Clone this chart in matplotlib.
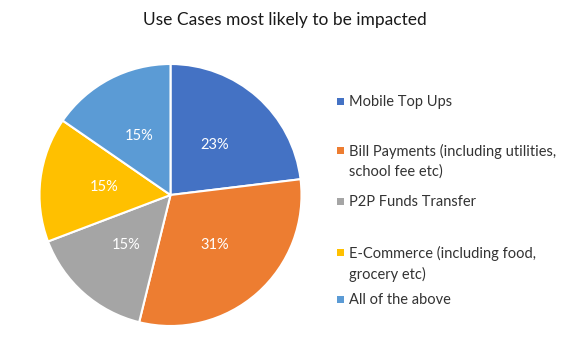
import matplotlib
matplotlib.use("Agg")
import matplotlib.pyplot as plt
from matplotlib.patches import Rectangle

plt.rcParams['font.family'] = ['Lato', 'DejaVu Sans']

title = "Use Cases most likely to be impacted"
categories = [
    "Mobile Top Ups",
    "Bill Payments (including utilities,\nschool fee etc)",
    "P2P Funds Transfer",
    "E-Commerce (including food,\ngrocery etc)",
    "All of the above",
]
responses = [3, 4, 2, 2, 2]
colors = ["#4472C4", "#ED7D31", "#A5A5A5", "#FFC000", "#5B9BD5"]

W, H = 569, 347
fig = plt.figure(figsize=(W / 100, H / 100), dpi=100)

# pie centred at (170.5, 195) px with radius ~130 px
cx, cy, r = 170.5, 195, 131
ax = fig.add_axes([(cx - r) / W, 1 - (cy + r) / H, 2 * r / W, 2 * r / H])
wedges, _, autotexts = ax.pie(
    responses, colors=colors, startangle=90, counterclock=False,
    autopct='%.0f%%', pctdistance=0.51,
    wedgeprops=dict(edgecolor='white', linewidth=1.5),
    textprops=dict(color='white', fontsize=10.5),
)
ax.set_aspect('equal')
ax.set_xlim(-1, 1)
ax.set_ylim(-1, 1)

fig.text(0.5, 1 - 20 / H, title, ha='center', va='center', fontsize=12.5, color='#1a1a1a')

# legend drawn by hand so entries keep even slots
entry_y = [101, 150, 201, 252, 299]
for label, col, y in zip(categories, colors, entry_y):
    fig.patches.append(Rectangle(((337) / W, 1 - (y + 3.5) / H), 7 / W, 7 / H,
                                 transform=fig.transFigure, facecolor=col,
                                 edgecolor='none'))
    fig.text(349 / W, 1 - (y - 6) / H, label, ha='left', va='top',
             fontsize=10.5, color='#333333', linespacing=1.45)

fig.savefig("out.png", dpi=100, facecolor='white')
